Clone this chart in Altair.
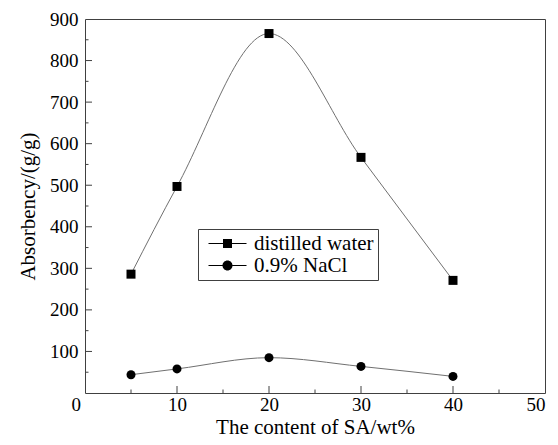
import altair as alt
import pandas as pd

# ---- data ----
x_vals = [5, 10, 20, 30, 40]
water = [286, 497, 865, 567, 271]
nacl = [44, 58, 85, 64, 40]
series_names = ["distilled water", "0.9% NaCl"]

x_ticks = [0, 10, 20, 30, 40, 50]
y_ticks = [100, 200, 300, 400, 500, 600, 700, 800, 900]
x_major_inner = [10, 20, 30, 40]
x_minor = [5, 15, 25, 35, 45]
y_major_inner = [100, 200, 300, 400, 500, 600, 700, 800]
y_minor = [50, 150, 250, 350, 450, 550, 650, 750, 850]

df = pd.DataFrame({
    "x": x_vals + x_vals,
    "y": water + nacl,
    "series": [series_names[0]] * len(x_vals) + [series_names[1]] * len(x_vals),
})

W, H = 460, 374
FONT = "'Liberation Serif', 'Times New Roman', serif"
FRAME = "#404040"

xs = alt.Scale(domain=[0, 50], nice=False, zero=False)
ys = alt.Scale(domain=[0, 900], nice=False, zero=False)

x_axis = alt.Axis(
    values=x_ticks, title="The content of SA/wt%", grid=False, domain=False,
    ticks=False, tickSize=0, labelPadding=17, labelBaseline="alphabetic",
    labelFont=FONT, labelFontSize=19, labelColor="black",
    labelOffset={"condition": {"test": "datum.value == 0", "value": -14}, "value": 0},
    titleFont=FONT, titleFontSize=21, titleFontWeight="normal", titleColor="black",
    titleY=40, titleBaseline="alphabetic",
)
y_axis = alt.Axis(
    values=y_ticks, title="Absorbency/(g/g)", grid=False, domain=False,
    ticks=False, tickSize=0, labelPadding=7,
    labelFont=FONT, labelFontSize=19, labelColor="black",
    titleFont=FONT, titleFontSize=21, titleFontWeight="normal", titleColor="black",
    titleX=-57, titleY=H / 2, titleBaseline="middle", titleAngle=270,
)

base = alt.Chart(df)

line = base.mark_line(interpolate="monotone", color="#707070", strokeWidth=1).encode(
    x=alt.X("x:Q", scale=xs, axis=x_axis),
    y=alt.Y("y:Q", scale=ys, axis=y_axis),
    detail="series:N",
)

points = base.mark_point(filled=True, color="black", opacity=1, size=81).encode(
    x=alt.X("x:Q", scale=xs),
    y=alt.Y("y:Q", scale=ys),
    shape=alt.Shape("series:N", scale=alt.Scale(domain=series_names, range=["square", "circle"]),
                    legend=None),
)

# legend symbols: short line + marker, drawn as filled custom symbol paths
sq_path = ("M-1.9,-0.05H-0.45V0.05H-1.9Z M0.45,-0.05H1.9V0.05H0.45Z "
           "M-0.45,-0.45H0.45V0.45H-0.45Z")
ci_path = ("M-1.9,-0.05H-0.5V0.05H-1.9Z M0.5,-0.05H1.9V0.05H0.5Z "
           "M-0.5,0A0.5,0.5,0,1,1,0.5,0A0.5,0.5,0,1,1,-0.5,0Z")

legend = alt.Legend(
    title=None, orient="none", legendX=113, legendY=210, padding=4,
    strokeColor=FRAME, fillColor="white",
    labelFont=FONT, labelFontSize=21, labelColor="black", labelOffset=16,
    symbolSize=400, symbolOffset=15, symbolFillColor="black",
    symbolStrokeWidth=0, symbolOpacity=1, rowPadding=0,
)

legend_layer = base.mark_point(filled=True, color="black", opacity=0, size=400).encode(
    x=alt.X("x:Q", scale=xs),
    y=alt.Y("y:Q", scale=ys),
    shape=alt.Shape("series:N", scale=alt.Scale(domain=series_names, range=[sq_path, ci_path]),
                    legend=legend),
)

# inward tick marks (major and minor), positioned through the scales
xt_major = alt.Chart(pd.DataFrame({"v": x_major_inner})).mark_rule(color=FRAME, strokeWidth=1).encode(
    x=alt.X("v:Q", scale=xs), y=alt.value(H), y2=alt.value(H - 7))
xt_minor = alt.Chart(pd.DataFrame({"v": x_minor})).mark_rule(color=FRAME, strokeWidth=1).encode(
    x=alt.X("v:Q", scale=xs), y=alt.value(H), y2=alt.value(H - 3.5))
yt_major = alt.Chart(pd.DataFrame({"v": y_major_inner})).mark_rule(color=FRAME, strokeWidth=1).encode(
    y=alt.Y("v:Q", scale=ys), x=alt.value(0), x2=alt.value(7))
yt_minor = alt.Chart(pd.DataFrame({"v": y_minor})).mark_rule(color=FRAME, strokeWidth=1).encode(
    y=alt.Y("v:Q", scale=ys), x=alt.value(0), x2=alt.value(3.5))

chart = alt.layer(line, points, legend_layer, xt_major, xt_minor, yt_major, yt_minor).resolve_scale(
    shape="independent"
).resolve_legend(shape="independent").properties(
    width=W, height=H,
    padding={"left": 85, "top": 19, "right": 13, "bottom": 52},
    autosize=alt.AutoSizeParams(type="none"),
    background="white",
).configure(font=FONT).configure_view(stroke=FRAME, strokeWidth=1)

chart.save("out.html", embed_options={"renderer": "svg", "actions": False})
